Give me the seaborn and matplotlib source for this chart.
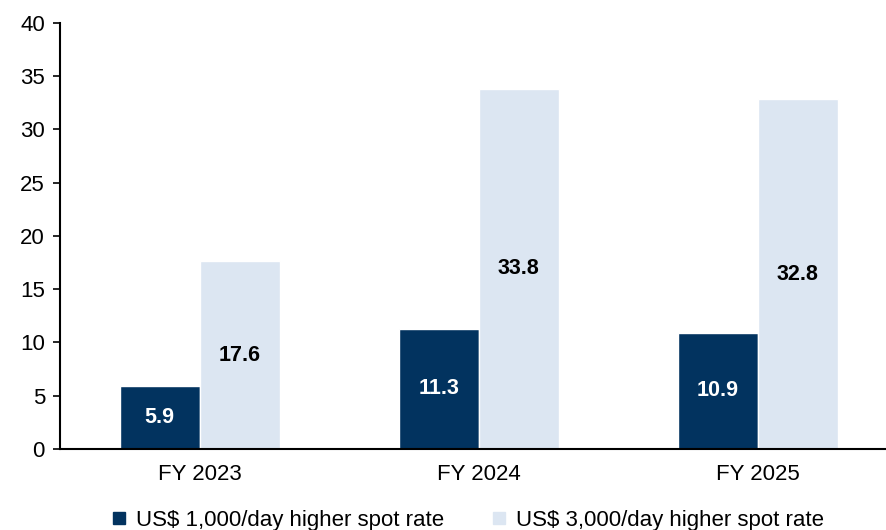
import numpy as np
import pandas as pd
import matplotlib
matplotlib.use("Agg")
import matplotlib.pyplot as plt
import seaborn as sns
from matplotlib.lines import Line2D

years = ["FY 2023", "FY 2024", "FY 2025"]
low_rate = [5.9, 11.3, 10.9]
high_rate = [17.6, 33.8, 32.8]
series_names = ["US$ 1,000/day higher spot rate", "US$ 3,000/day higher spot rate"]
colors = ["#02335F", "#DCE6F2"]

df = pd.DataFrame({
    "year": years * 2,
    "value": low_rate + high_rate,
    "series": [series_names[0]] * 3 + [series_names[1]] * 3,
})

sns.set_style("white")
plt.rcParams['font.family'] = ['Liberation Sans', 'DejaVu Sans']
plt.rcParams['text.color'] = 'black'
plt.rcParams['xtick.color'] = 'black'
plt.rcParams['ytick.color'] = 'black'

fig, ax = plt.subplots(figsize=(8.86, 5.3), dpi=100)
fig.subplots_adjust(left=0.068, right=1.0, top=0.957, bottom=0.153)

sns.barplot(data=df, x="year", y="value", hue="series", palette=colors,
            width=0.573, saturation=1, ax=ax, legend=False)

# value labels in the middle of each bar
for i, cont in enumerate(ax.containers):
    for bar, v in zip(cont, [low_rate, high_rate][i]):
        ax.text(bar.get_x() + bar.get_width() / 2, v / 2, f"{v:.1f}",
                ha="center", va="center", fontsize=15.5, fontweight="bold",
                color="white" if i == 0 else "black")

ax.set_ylim(0, 40)
ax.set_yticks(range(0, 41, 5))
ax.set_xlim(-0.5, 2.46)
ax.set_xlabel("")
ax.set_ylabel("")
ax.tick_params(axis="y", labelsize=16, length=5, width=1.2, color="black", left=True, pad=6)
ax.tick_params(axis="x", labelsize=16, length=0, pad=11)
for s in ["top", "right"]:
    ax.spines[s].set_visible(False)
for s in ["left", "bottom"]:
    ax.spines[s].set_color("black")
    ax.spines[s].set_linewidth(1.5)

handles = [Line2D([], [], marker="s", linestyle="", markersize=8.5,
                  markerfacecolor=c, markeredgecolor=c) for c in colors]
fig.legend(handles, series_names, loc="lower center", bbox_to_anchor=(0.527, -0.04),
           ncol=2, frameon=False, fontsize=16, handlelength=0.8,
           handletextpad=0.35, columnspacing=2.1)

fig.savefig("out.png", dpi=100)
